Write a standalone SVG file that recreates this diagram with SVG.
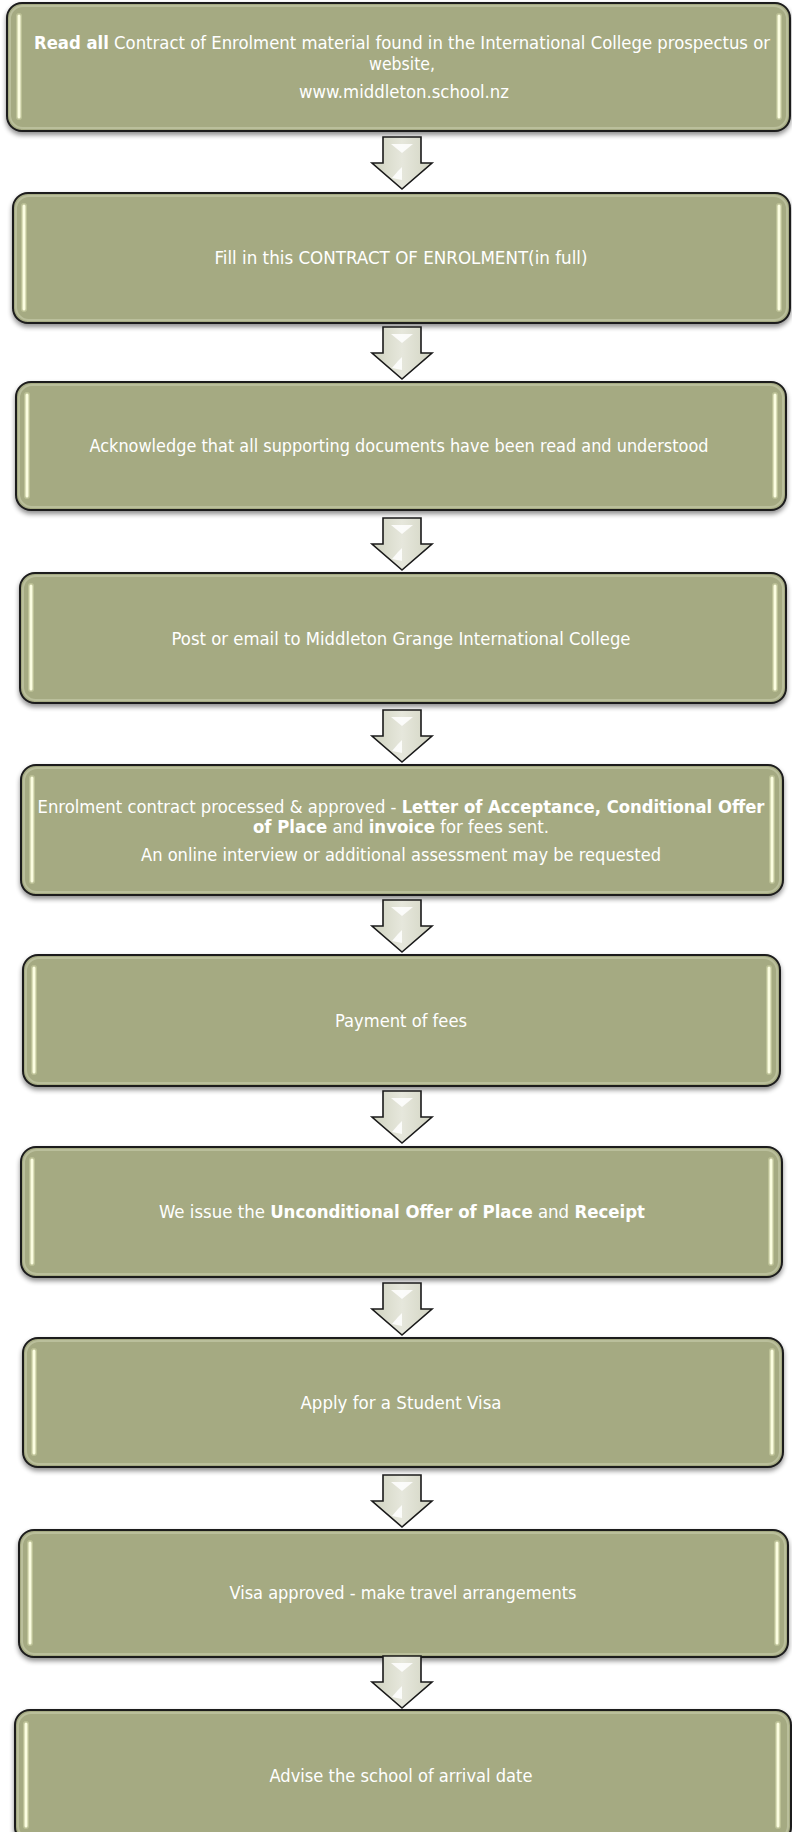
<svg xmlns="http://www.w3.org/2000/svg" width="792" height="1832" viewBox="0 0 792 1832">
<style>
.box{fill:#a5aa82;stroke:#1c1c1c;stroke-width:2}
.rim{fill:none;stroke:#cfd3b4;stroke-width:2;opacity:0.5}
.hl{stroke:#fbfde0;stroke-width:3;stroke-linecap:round}
.glow{stroke:#d3d9aa;stroke-width:6;stroke-linecap:round;opacity:0.5}
.t{font-family:"DejaVu Sans Condensed","DejaVu Sans",sans-serif;font-stretch:condensed;font-size:17px;fill:#ffffff;text-anchor:middle}
.b{font-weight:bold}
.arrow{fill:url(#ag);stroke:#1a1a1a;stroke-width:1.6;stroke-linejoin:miter}
.spark{fill:#ffffff;opacity:0.85}
</style>
<defs>
<linearGradient id="ag" x1="0" y1="0" x2="1" y2="0">
<stop offset="0" stop-color="#d0d3c0"/>
<stop offset="0.5" stop-color="#e6e7dc"/>
<stop offset="1" stop-color="#d2d4c2"/>
</linearGradient>
<filter id="sh" x="-5%" y="-10%" width="110%" height="130%">
<feGaussianBlur in="SourceAlpha" stdDeviation="2.5"/>
<feOffset dx="0" dy="3" result="o"/>
<feComponentTransfer><feFuncA type="linear" slope="0.45"/></feComponentTransfer>
<feMerge><feMergeNode/><feMergeNode in="SourceGraphic"/></feMerge>
</filter>
</defs>

<g id="node1">
<rect class="box" filter="url(#sh)" x="7" y="3" width="783" height="128" rx="15"/>
<rect class="rim" x="10" y="6" width="777" height="122" rx="13"/>
<line class="glow" x1="19" y1="16" x2="19" y2="117"/><line class="hl" x1="19" y1="16" x2="19" y2="117"/>
<line class="glow" x1="779" y1="16" x2="779" y2="117"/><line class="hl" x1="779" y1="16" x2="779" y2="117"/>
<text class="t" x="402" y="49" textLength="736" lengthAdjust="spacingAndGlyphs"><tspan class="b">Read all</tspan> Contract of Enrolment material found in the International College prospectus or</text>
<text class="t" x="402" y="70" textLength="66" lengthAdjust="spacingAndGlyphs">website,</text>
<text class="t" x="404" y="98" textLength="210" lengthAdjust="spacingAndGlyphs">www.middleton.school.nz</text>
</g>

<g id="node2">
<rect class="box" filter="url(#sh)" x="13" y="193" width="777" height="130" rx="15"/>
<rect class="rim" x="16" y="196" width="771" height="124" rx="13"/>
<line class="glow" x1="24" y1="206" x2="24" y2="309"/><line class="hl" x1="24" y1="206" x2="24" y2="309"/>
<line class="glow" x1="779" y1="206" x2="779" y2="309"/><line class="hl" x1="779" y1="206" x2="779" y2="309"/>
<text class="t" x="401" y="264" textLength="373" lengthAdjust="spacingAndGlyphs">Fill in this CONTRACT OF ENROLMENT(in full)</text>
</g>

<g id="node3">
<rect class="box" filter="url(#sh)" x="16" y="382" width="770" height="128" rx="15"/>
<rect class="rim" x="19" y="385" width="764" height="122" rx="13"/>
<line class="glow" x1="27" y1="395" x2="27" y2="496"/><line class="hl" x1="27" y1="395" x2="27" y2="496"/>
<line class="glow" x1="775" y1="395" x2="775" y2="496"/><line class="hl" x1="775" y1="395" x2="775" y2="496"/>
<text class="t" x="399" y="452" textLength="619" lengthAdjust="spacingAndGlyphs">Acknowledge that all supporting documents have been read and understood</text>
</g>

<g id="node4">
<rect class="box" filter="url(#sh)" x="20" y="573" width="766" height="130" rx="15"/>
<rect class="rim" x="23" y="576" width="760" height="124" rx="13"/>
<line class="glow" x1="31" y1="586" x2="31" y2="689"/><line class="hl" x1="31" y1="586" x2="31" y2="689"/>
<line class="glow" x1="775" y1="586" x2="775" y2="689"/><line class="hl" x1="775" y1="586" x2="775" y2="689"/>
<text class="t" x="401" y="645" textLength="459" lengthAdjust="spacingAndGlyphs">Post or email to Middleton Grange International College</text>
</g>

<g id="node5">
<rect class="box" filter="url(#sh)" x="21" y="765" width="762" height="130" rx="15"/>
<rect class="rim" x="24" y="768" width="756" height="124" rx="13"/>
<line class="glow" x1="32" y1="778" x2="32" y2="881"/><line class="hl" x1="32" y1="778" x2="32" y2="881"/>
<line class="glow" x1="772" y1="778" x2="772" y2="881"/><line class="hl" x1="772" y1="778" x2="772" y2="881"/>
<text class="t" x="401" y="813" textLength="727" lengthAdjust="spacingAndGlyphs">Enrolment contract processed &amp; approved - <tspan class="b">Letter of Acceptance, Conditional Offer</tspan></text>
<text class="t" x="401" y="833" textLength="296" lengthAdjust="spacingAndGlyphs"><tspan class="b">of Place</tspan> and <tspan class="b">invoice</tspan> for fees sent.</text>
<text class="t" x="401" y="861" textLength="520" lengthAdjust="spacingAndGlyphs">An online interview or additional assessment may be requested</text>
</g>

<g id="node6">
<rect class="box" filter="url(#sh)" x="23" y="955" width="757" height="131" rx="15"/>
<rect class="rim" x="26" y="958" width="751" height="125" rx="13"/>
<line class="glow" x1="34" y1="968" x2="34" y2="1072"/><line class="hl" x1="34" y1="968" x2="34" y2="1072"/>
<line class="glow" x1="769" y1="968" x2="769" y2="1072"/><line class="hl" x1="769" y1="968" x2="769" y2="1072"/>
<text class="t" x="401" y="1027" textLength="132" lengthAdjust="spacingAndGlyphs">Payment of fees</text>
</g>

<g id="node7">
<rect class="box" filter="url(#sh)" x="21" y="1147" width="761" height="130" rx="15"/>
<rect class="rim" x="24" y="1150" width="755" height="124" rx="13"/>
<line class="glow" x1="32" y1="1160" x2="32" y2="1263"/><line class="hl" x1="32" y1="1160" x2="32" y2="1263"/>
<line class="glow" x1="771" y1="1160" x2="771" y2="1263"/><line class="hl" x1="771" y1="1160" x2="771" y2="1263"/>
<text class="t" x="402" y="1218" textLength="486" lengthAdjust="spacingAndGlyphs">We issue the <tspan class="b">Unconditional Offer of Place</tspan> and <tspan class="b">Receipt</tspan></text>
</g>

<g id="node8">
<rect class="box" filter="url(#sh)" x="23" y="1338" width="760" height="129" rx="15"/>
<rect class="rim" x="26" y="1341" width="754" height="123" rx="13"/>
<line class="glow" x1="34" y1="1351" x2="34" y2="1453"/><line class="hl" x1="34" y1="1351" x2="34" y2="1453"/>
<line class="glow" x1="772" y1="1351" x2="772" y2="1453"/><line class="hl" x1="772" y1="1351" x2="772" y2="1453"/>
<text class="t" x="401" y="1409" textLength="201" lengthAdjust="spacingAndGlyphs">Apply for a Student Visa</text>
</g>

<g id="node9">
<rect class="box" filter="url(#sh)" x="19" y="1530" width="769" height="127" rx="15"/>
<rect class="rim" x="22" y="1533" width="763" height="121" rx="13"/>
<line class="glow" x1="30" y1="1543" x2="30" y2="1643"/><line class="hl" x1="30" y1="1543" x2="30" y2="1643"/>
<line class="glow" x1="777" y1="1543" x2="777" y2="1643"/><line class="hl" x1="777" y1="1543" x2="777" y2="1643"/>
<text class="t" x="403" y="1599" textLength="347" lengthAdjust="spacingAndGlyphs">Visa approved - make travel arrangements</text>
</g>

<g id="node10">
<rect class="box" filter="url(#sh)" x="15" y="1710" width="776" height="132" rx="15"/>
<rect class="rim" x="18" y="1713" width="770" height="126" rx="13"/>
<line class="glow" x1="26" y1="1724" x2="26" y2="1826"/><line class="hl" x1="26" y1="1724" x2="26" y2="1826"/>
<line class="glow" x1="778" y1="1724" x2="778" y2="1826"/><line class="hl" x1="778" y1="1724" x2="778" y2="1826"/>
<text class="t" x="401" y="1782" textLength="263" lengthAdjust="spacingAndGlyphs">Advise the school of arrival date</text>
</g>

<g id="connectors">
<g transform="translate(0,137)"><polygon class="arrow" points="383,0 421,0 421,26 432,26 402,52 372,26 383,26"/><polygon class="spark" points="391,7 413,7 402,16"/><polygon class="spark" points="398,34 402,30 402,43 392,41"/></g>
<g transform="translate(0,327)"><polygon class="arrow" points="383,0 421,0 421,26 432,26 402,52 372,26 383,26"/><polygon class="spark" points="391,7 413,7 402,16"/><polygon class="spark" points="398,34 402,30 402,43 392,41"/></g>
<g transform="translate(0,518)"><polygon class="arrow" points="383,0 421,0 421,26 432,26 402,52 372,26 383,26"/><polygon class="spark" points="391,7 413,7 402,16"/><polygon class="spark" points="398,34 402,30 402,43 392,41"/></g>
<g transform="translate(0,710)"><polygon class="arrow" points="383,0 421,0 421,26 432,26 402,52 372,26 383,26"/><polygon class="spark" points="391,7 413,7 402,16"/><polygon class="spark" points="398,34 402,30 402,43 392,41"/></g>
<g transform="translate(0,900)"><polygon class="arrow" points="383,0 421,0 421,26 432,26 402,52 372,26 383,26"/><polygon class="spark" points="391,7 413,7 402,16"/><polygon class="spark" points="398,34 402,30 402,43 392,41"/></g>
<g transform="translate(0,1091)"><polygon class="arrow" points="383,0 421,0 421,26 432,26 402,52 372,26 383,26"/><polygon class="spark" points="391,7 413,7 402,16"/><polygon class="spark" points="398,34 402,30 402,43 392,41"/></g>
<g transform="translate(0,1283)"><polygon class="arrow" points="383,0 421,0 421,26 432,26 402,52 372,26 383,26"/><polygon class="spark" points="391,7 413,7 402,16"/><polygon class="spark" points="398,34 402,30 402,43 392,41"/></g>
<g transform="translate(0,1475)"><polygon class="arrow" points="383,0 421,0 421,26 432,26 402,52 372,26 383,26"/><polygon class="spark" points="391,7 413,7 402,16"/><polygon class="spark" points="398,34 402,30 402,43 392,41"/></g>
<g transform="translate(0,1656)"><polygon class="arrow" points="383,0 421,0 421,26 432,26 402,52 372,26 383,26"/><polygon class="spark" points="391,7 413,7 402,16"/><polygon class="spark" points="398,34 402,30 402,43 392,41"/></g>
</g>
</svg>
